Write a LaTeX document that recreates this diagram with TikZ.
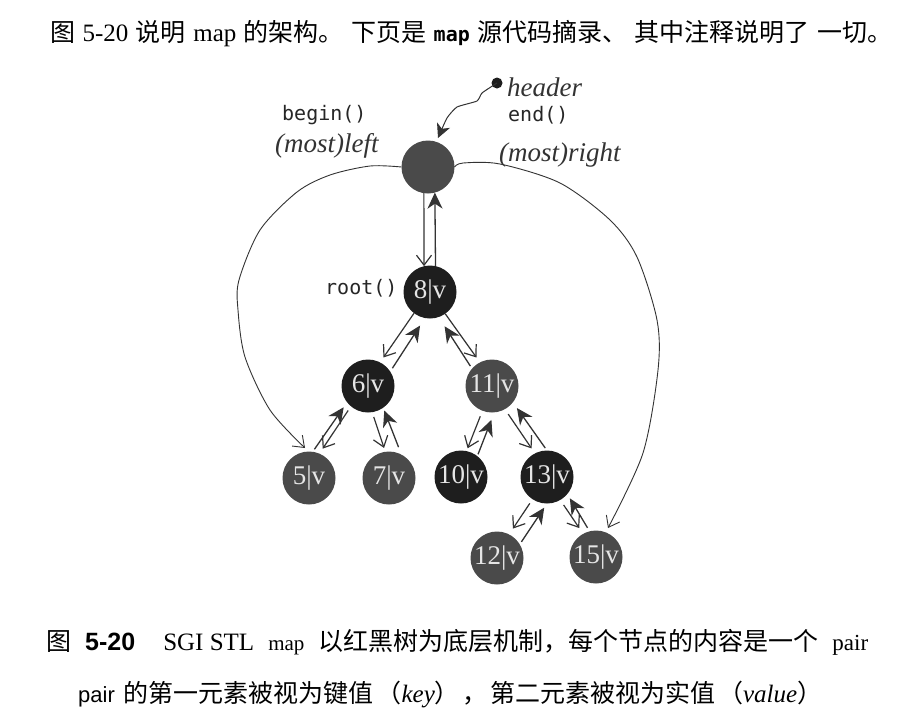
\documentclass[tikz,border=0pt]{standalone}
\usepackage{fontspec}
\usetikzlibrary{arrows.meta}
\setmainfont{Liberation Serif}
\setmonofont{DejaVu Sans Mono}
\setsansfont{Liberation Sans}
\newfontfamily\cjk{Noto Sans CJK SC}
\newfontfamily\ser{Liberation Serif}
\definecolor{redn}{HTML}{4A4A4A}
\definecolor{blackn}{HTML}{1E1E1E}
\definecolor{linec}{HTML}{333333}
\tikzset{
  x=1pt,y=-1pt,
  tn/.style={circle,minimum size=53pt,inner sep=0pt,outer sep=0pt,text=white!90!black,font=\fontsize{27}{27}\selectfont},
  rn/.style={tn,fill=redn},
  bn/.style={tn,fill=blackn},
  dn/.style={-{Straight Barb[length=10pt,width=15pt]},draw=linec,line width=1.2pt},
  up/.style={-{Stealth[length=16pt,width=15pt,inset=5pt]},draw=linec,line width=1.3pt},
  thin curve/.style={-{Straight Barb[length=10pt,width=15pt]},draw=linec,line width=0.9pt},
  ml/.style={font=\ttfamily\fontsize{20}{20}\selectfont,text=black!85,inner sep=0pt,anchor=west},
  il/.style={font=\itshape\fontsize{27}{27}\selectfont,text=black!80,inner sep=0pt,anchor=west},
  tl/.style={inner sep=0pt,anchor=base west,text=black,font=\cjk\fontsize{25}{25}\selectfont},
}
\begin{document}
\begin{tikzpicture}
\useasboundingbox (0,0) rectangle (912,724);
\fill[white] (0,0) rectangle (912,724);
\node[rn] (h) at (428,167) {};
\node[bn] (n8) at (430,292) {8|v};
\node[bn] (n6) at (368,386) {6|v};
\node[rn] (n11) at (492,386) {11|v};
\node[rn] (n5) at (309,478) {5|v};
\node[rn] (n7) at (389,478) {7|v};
\node[bn] (n10) at (461,477) {10|v};
\node[bn] (n13) at (547,477) {13|v};
\node[rn] (n12) at (497,558) {12|v};
\node[rn] (n15) at (596,557) {15|v};
\node[circle,fill=blackn,minimum size=11pt,inner sep=0pt] (dot) at (497,83) {};
% tree links
\draw[dn] (h.-99) -- (n8.103);
\draw[up] (n8.78) -- (h.-75);
\draw[dn,shorten >=6pt] (n8.-127) -- (n6.63);
\draw[up,shorten <=4pt,shorten >=9pt] (n6.33) -- (n8.-101);
\draw[dn,shorten >=6pt] (n8.-55) -- (n11.117);
\draw[up,shorten <=3pt,shorten >=11pt] (n11.139) -- (n8.-71);
\draw[dn,shorten <=5pt,shorten >=6pt] (n6.-130) -- (n5.67);
\draw[up,shorten <=3pt,shorten >=6pt] (n5.82) -- (n6.-142);
\draw[dn,shorten <=5pt,shorten >=4pt] (n6.-81) -- (n7.98);
\draw[up,shorten <=8pt,shorten >=3pt] (n7.62) -- (n6.-55);
\draw[dn,shorten <=6pt,shorten >=3pt] (n11.-111) -- (n10.78);
\draw[up,shorten <=2pt,shorten >=8pt] (n10.52) -- (n11.-85);
\draw[dn,shorten <=6pt,shorten >=6pt] (n11.-61) -- (n13.117);
\draw[up,shorten <=3pt,shorten >=7pt] (n13.90) -- (n11.-38);
\draw[dn,shorten <=5pt,shorten >=7pt] (n13.-123) -- (n12.63);
\draw[up,shorten <=3pt,shorten >=5pt] (n12.31) -- (n13.-90);
\draw[dn,shorten <=6pt,shorten >=7pt] (n13.-60) -- (n15.119);
\draw[up,shorten <=4pt,shorten >=5pt] (n15.104) -- (n13.-40);
% long curves
\coordinate (tip5) at (305,448);
\coordinate (tip15) at (608,528);
\coordinate (tiph) at (438,138);
\draw[thin curve] plot[smooth,tension=0.5] coordinates {(h.west) (370,166) (330,175) (297,192) (260,230) (239,280) (238,310) (245,357) (270,410) (tip5)};
\draw[thin curve] plot[smooth,tension=0.5] coordinates {(h.east) (463,163) (500,164) (560,183) (610,220) (637,257) (657,320) (658,370) (643,453) (tip15)};
\draw[-{Stealth[length=14pt,width=14pt,inset=4pt]},draw=linec,line width=1pt] plot[smooth,tension=0.3] coordinates {(dot) (482,93) (477,101) (457,107) (447,118) (tiph)};
% labels
\node[il] (lh) at (507,87) {header};
\node[ml] (lb) at (282,115) {begin()};
\node[ml] (le) at (508,115) {end()};
\node[il] (ll) at (275,146) {(most)left};
\node[il] (lr) at (499,155) {(most)right};
\node[ml] (lroot) at (325,288) {root()};
% top text
\node[tl] (top) at (50,41) {\makebox[842pt][s]{图\hfill {\ser 5-20}\hfill 说明\hfill {\ser map}\hfill 的架构。\hfill 下页是\hfill {\ttfamily\bfseries\fontsize{20}{20}\selectfont map}\hfill 源代码摘录、\hfill 其中注释说明了\hfill 一切。}};
% caption
\node[tl] (c1) at (46,650) {\makebox[822pt][s]{图\hfill {\sffamily\bfseries 5-20}\hfill\hfill {\ser SGI STL}\hfill {\ser\fontsize{21}{21}\selectfont map}\hfill 以红黑树为底层机制，每个节点的内容是一个\hfill {\ser\fontsize{23}{23}\selectfont pair}}};
\node[tl] (c2) at (78,702) {\makebox[744pt][s]{{\sffamily\fontsize{22}{22}\selectfont pair}\hspace{9pt}的第一元素被视为键值\hfill （{\ser\itshape key}）\hfill ，\hfill 第二元素被视为实值\hfill （{\ser\itshape value}）}};
\end{tikzpicture}
\end{document}
